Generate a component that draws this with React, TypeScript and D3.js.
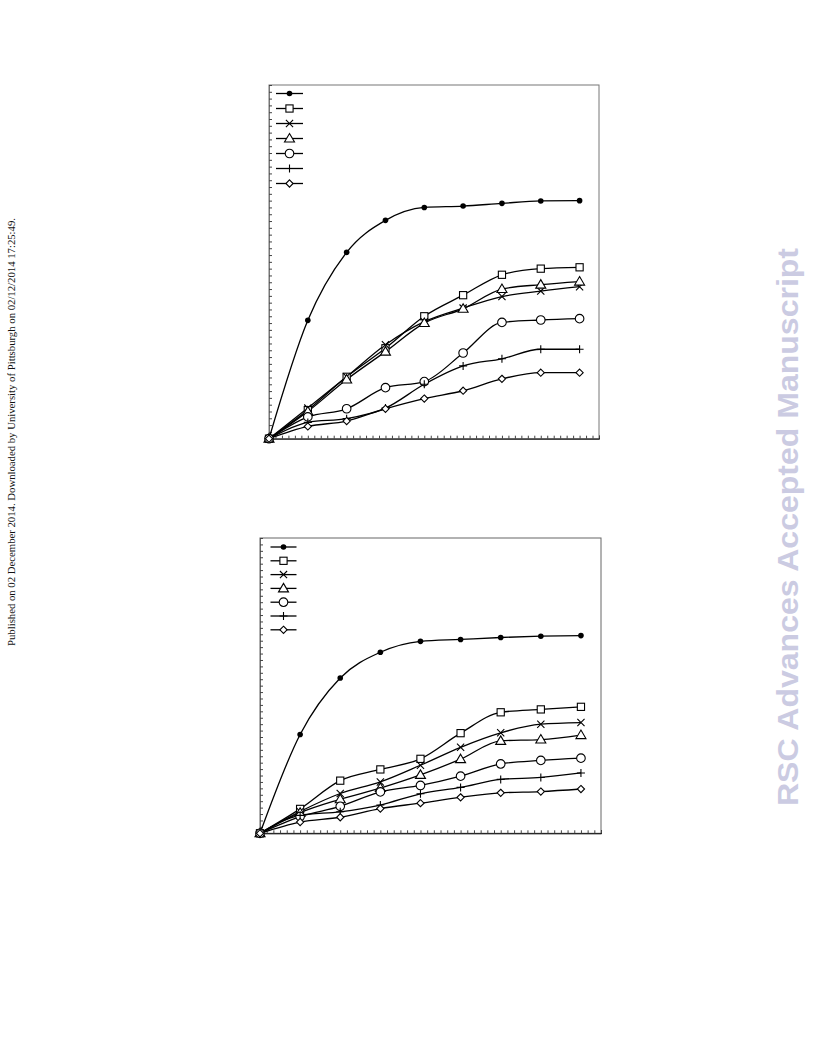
import { useEffect, useRef } from "react"
import * as d3 from "d3"

// time points (min), same for both panels
const times = [0, 60, 120, 180, 240, 300, 360, 420, 480]
const markers = ["dot", "square", "x", "triangle", "circle", "plus", "diamond"]

// panel 1 (top)
const top1 = [0, 17.4, 27.4, 32.1, 34.0, 34.2, 34.6, 34.95, 35.0]
const top2 = [0, 4.2, 9.1, 13.3, 18.0, 21.1, 24.1, 25.0, 25.2]
const top3 = [0, 4.5, 9.1, 13.8, 17.2, 19.2, 20.9, 21.7, 22.35]
const top4 = [0, 4.0, 8.7, 12.8, 17.0, 19.1, 22.0, 22.65, 23.1]
const top5 = [0, 3.2, 4.4, 7.5, 8.4, 12.6, 17.1, 17.45, 17.65]
const top6 = [0, 2.4, 2.95, 4.5, 8.0, 10.7, 11.75, 13.15, 13.15]
const top7 = [0, 1.8, 2.6, 4.4, 5.9, 7.05, 8.8, 9.7, 9.7]

// panel 2 (bottom)
const bot1 = [0, 15.4, 24.2, 28.2, 29.9, 30.2, 30.5, 30.7, 30.8]
const bot2 = [0, 3.8, 8.2, 9.95, 11.6, 15.6, 18.85, 19.3, 19.7]
const bot3 = [0, 3.4, 6.2, 8.0, 10.6, 13.4, 15.65, 17.0, 17.25]
const bot4 = [0, 3.2, 5.3, 7.05, 9.1, 11.55, 14.4, 14.6, 15.3]
const bot5 = [0, 2.6, 4.2, 6.45, 7.45, 8.9, 10.8, 11.35, 11.7]
const bot6 = [0, 2.8, 3.35, 4.4, 6.15, 7.15, 8.4, 8.7, 9.4]
const bot7 = [0, 1.75, 2.5, 3.85, 4.7, 5.6, 6.3, 6.5, 6.9]

const topSeries = [top1, top2, top3, top4, top5, top6, top7]
const botSeries = [bot1, bot2, bot3, bot4, bot5, bot6, bot7]

const sideNote = "Published on 02 December 2014. Downloaded by University of Pittsburgh on 02/12/2014 17:25:49."
const watermark = "RSC Advances Accepted Manuscript"

function drawMarker(g: any, type: string, x: number, y: number) {
  const s = g.append("g").attr("transform", `translate(${x},${y})`)
  const stroke = "#000"
  if (type === "dot") {
    s.append("circle").attr("r", 2.8).attr("fill", stroke)
  } else if (type === "square") {
    s.append("rect").attr("x", -3.6).attr("y", -3.6).attr("width", 7.2).attr("height", 7.2)
      .attr("fill", "#fff").attr("stroke", stroke).attr("stroke-width", 1.1)
  } else if (type === "circle") {
    s.append("circle").attr("r", 4.3).attr("fill", "#fff").attr("stroke", stroke).attr("stroke-width", 1.1)
  } else if (type === "triangle") {
    s.append("path").attr("d", "M0,-5 L5,3.5 L-5,3.5 Z")
      .attr("fill", "#fff").attr("stroke", stroke).attr("stroke-width", 1.1)
  } else if (type === "diamond") {
    s.append("path").attr("d", "M0,-3.6 L3.6,0 L0,3.6 L-3.6,0 Z")
      .attr("fill", "#fff").attr("stroke", stroke).attr("stroke-width", 1.1)
  } else if (type === "x") {
    s.append("path").attr("d", "M-3.6,-3.6 L3.6,3.6 M-3.6,3.6 L3.6,-3.6")
      .attr("stroke", stroke).attr("stroke-width", 1.1)
  } else if (type === "plus") {
    s.append("path").attr("d", "M-4,0 L4,0 M0,-4 L0,4")
      .attr("stroke", stroke).attr("stroke-width", 1.1)
  }
}

function drawPanel(
  svg: any,
  box: { left: number; right: number; top: number; bottom: number },
  yMax: number,
  series: number[][],
  legend: { x0: number; x1: number; y0: number; step: number },
  frame: string
) {
  const x = d3.scaleLinear().domain([0, 510]).range([box.left, box.right])
  const y = d3.scaleLinear().domain([0, yMax]).range([box.bottom, box.top])
  const g = svg.append("g")

  // frame
  g.append("rect")
    .attr("x", box.left).attr("y", box.top)
    .attr("width", box.right - box.left).attr("height", box.bottom - box.top)
    .attr("fill", "none").attr("stroke", frame).attr("stroke-width", 1)

  // inward ticks
  const xAxis = g.append("g")
    .attr("transform", `translate(0,${box.bottom})`)
    .call(d3.axisBottom(x).tickValues(d3.range(0, 511, 10)).tickSize(-3).tickFormat(() => ""))
  xAxis.select(".domain").attr("stroke", "#000")
  xAxis.selectAll(".tick line").attr("stroke", "#444")

  const yAxis = g.append("g")
    .attr("transform", `translate(${box.left},0)`)
    .call(d3.axisLeft(y).tickValues(d3.range(0, yMax + 0.01, 1)).tickSize(-3).tickFormat(() => ""))
  yAxis.select(".domain").attr("stroke", frame)
  yAxis.selectAll(".tick line").attr("stroke", "#444")

  const line = d3.line<number>()
    .x((_, i) => x(times[i]))
    .y((d) => y(d))
    .curve(d3.curveMonotoneX)

  series.forEach((vals) => {
    g.append("path")
      .attr("d", line(vals))
      .attr("fill", "none")
      .attr("stroke", "#000")
      .attr("stroke-width", 1.3)
  })
  series.forEach((vals, k) => {
    vals.forEach((v, i) => drawMarker(g, markers[k], x(times[i]), y(v)))
  })

  // legend (symbols only)
  markers.forEach((m, k) => {
    const ly = legend.y0 + k * legend.step
    g.append("line")
      .attr("x1", legend.x0).attr("x2", legend.x1)
      .attr("y1", ly).attr("y2", ly)
      .attr("stroke", "#000").attr("stroke-width", 1.3)
    drawMarker(g, m, (legend.x0 + legend.x1) / 2, ly)
  })
}

export default function App() {
  const svgRef = useRef<SVGSVGElement>(null)

  useEffect(() => {
    if (!svgRef.current) return
    const svg = d3.select(svgRef.current)
    svg.selectAll("*").remove()

    svg.append("rect").attr("width", 816).attr("height", 1056).attr("fill", "#fff")

    drawPanel(svg, { left: 269, right: 599, top: 85, bottom: 438.7 }, 52, topSeries,
      { x0: 276, x1: 303, y0: 93.5, step: 15 }, "#777")
    drawPanel(svg, { left: 260, right: 601, top: 538, bottom: 833.3 }, 46, botSeries,
      { x0: 270.5, x1: 296.5, y0: 547, step: 13.8 }, "#666")

    svg.append("text")
      .attr("transform", "translate(15,432) rotate(-90)")
      .attr("text-anchor", "middle")
      .attr("font-family", "'Liberation Serif', 'Times New Roman', serif")
      .attr("font-size", 10)
      .attr("textLength", 428)
      .attr("lengthAdjust", "spacingAndGlyphs")
      .attr("fill", "#111")
      .text(sideNote)

    svg.append("text")
      .attr("transform", "translate(798,527) rotate(-90)")
      .attr("text-anchor", "middle")
      .attr("font-family", "'Liberation Sans', Arial, sans-serif")
      .attr("font-weight", "bold")
      .attr("font-size", 30)
      .attr("textLength", 558)
      .attr("lengthAdjust", "spacingAndGlyphs")
      .attr("fill", "#cbcbe2")
      .text(watermark)
  }, [])

  return (
    <svg
      ref={svgRef}
      width={816}
      height={1056}
      style={{ position: "absolute", left: 0, top: 0 }}
    />
  )
}
